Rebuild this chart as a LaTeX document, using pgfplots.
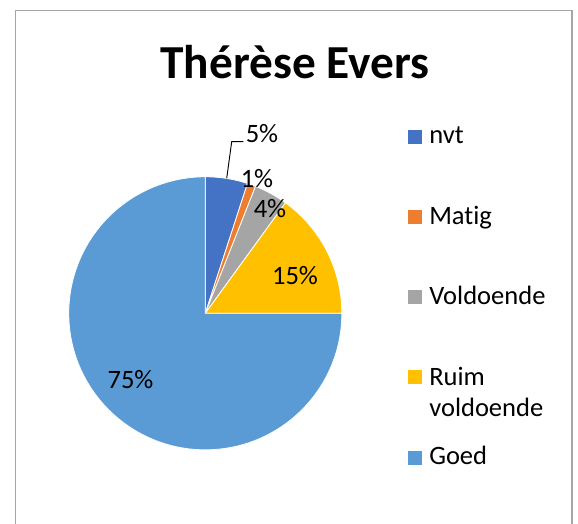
\documentclass[border=0pt]{standalone}
\usepackage{fontspec}
\setmainfont{Carlito}[Ligatures=CommonOff]
\usepackage{pgfplots}
\pgfplotsset{compat=1.18}
\usepackage{pgfplotstable}

\definecolor{cnvt}{HTML}{4472C4}
\definecolor{cmatig}{HTML}{ED7D31}
\definecolor{cvold}{HTML}{A5A5A5}
\definecolor{cruim}{HTML}{FFC000}
\definecolor{cgoed}{HTML}{5B9BD5}
\definecolor{frame}{HTML}{A6A6A6}

% slice values (percent), colour, label position (px, from top left)
\pgfplotstableread{
label value col lx ly
nvt 5 cnvt 262 133.5
Matig 1 cmatig 257 178.5
Voldoende 4 cvold 270 208.5
Ruim 15 cruim 295 275.5
Goed 75 cgoed 130.5 379.5
}\piedata

\newcommand\lblfont{\fontsize{19.9}{23}\selectfont}

\begin{document}
\begin{tikzpicture}
\begin{axis}[
    x=0.75pt, y=0.75pt,
    xmin=0, xmax=578, ymin=-524, ymax=0,
    hide axis, clip=false,
]
    \coordinate (bl) at (axis cs:0,-524);
    \coordinate (tr) at (axis cs:578,0);

    % chart frame
    \draw[frame, line width=1.1pt] (axis cs:15.5,-524) -- (axis cs:15.5,-10.5)
        -- (axis cs:572,-10.5) -- (axis cs:572,-524);

    % title
    \node[anchor=base, inner sep=0pt, font=\fontsize{35.5}{42}\selectfont\bfseries]
        at (axis cs:295,-79) {Thérèse Evers};

    % pie slices, clockwise from 12 o'clock
    \def\startang{90}
    \pgfplotsforeachungrouped \i in {0,...,4}{
        \pgfplotstablegetelem{\i}{value}\of\piedata \let\v=\pgfplotsretval
        \pgfplotstablegetelem{\i}{col}\of\piedata \let\c=\pgfplotsretval
        \pgfmathsetmacro\endang{\startang-3.6*\v}
        \edef\cmd{\noexpand\fill[\c, draw=white, line width=0.6pt]
            (axis cs:205.3,-313.3) -- ++(\startang:102.4pt)
            arc[start angle=\startang, end angle=\endang, radius=102.4pt] -- cycle;}
        \cmd
        \global\let\startang\endang
    }

    % data labels
    \pgfplotsforeachungrouped \i in {0,...,4}{
        \pgfplotstablegetelem{\i}{value}\of\piedata \let\v=\pgfplotsretval
        \pgfplotstablegetelem{\i}{lx}\of\piedata \let\lx=\pgfplotsretval
        \pgfplotstablegetelem{\i}{ly}\of\piedata \let\ly=\pgfplotsretval
        \edef\cmd{\noexpand\node[inner sep=0pt, font=\noexpand\lblfont]
            at (axis cs:\lx,-\ly) {\v\noexpand\%};}
        \cmd
    }
    % leader line for 5%
    \draw[black, line width=0.7pt] (axis cs:226.7,-178.3) -- (axis cs:231.7,-141.7)
        -- (axis cs:243.3,-141.7);

    % legend
    \fill[cnvt] (axis cs:408,-130) rectangle (axis cs:422,-144);
    \fill[cmatig] (axis cs:408,-210) rectangle (axis cs:422,-224);
    \fill[cvold] (axis cs:408,-290) rectangle (axis cs:422,-304);
    \fill[cruim] (axis cs:408,-370) rectangle (axis cs:422,-384);
    \fill[cgoed] (axis cs:408,-451) rectangle (axis cs:422,-465);
    \begin{scope}[every node/.style={anchor=base west, inner sep=0pt, font=\lblfont}]
        \node at (axis cs:429,-144) {nvt};
        \node at (axis cs:429,-225) {Matig};
        \node at (axis cs:429,-305) {Voldoende};
        \node at (axis cs:429,-386) {Ruim};
        \node at (axis cs:429,-417) {voldoende};
        \node at (axis cs:429,-465) {Goed};
    \end{scope}
\end{axis}
\pgfresetboundingbox
\path (bl) rectangle (tr);
\end{tikzpicture}
\end{document}
